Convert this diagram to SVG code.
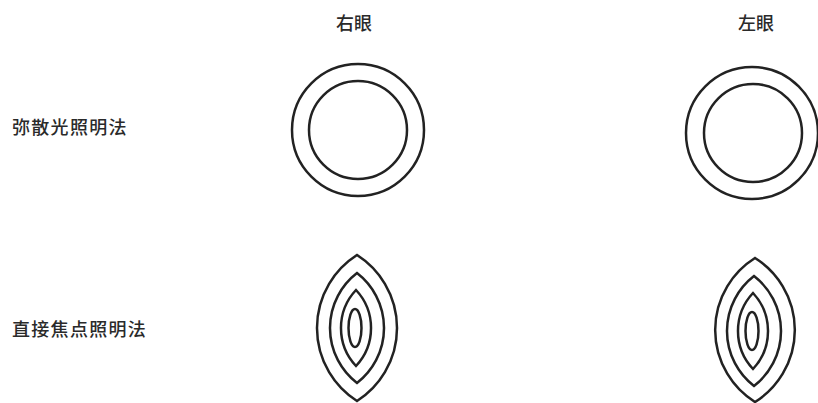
<svg xmlns="http://www.w3.org/2000/svg" width="818" height="403" viewBox="0 0 818 403">
<style>
.t{font-family:"Noto Sans CJK SC","Noto Sans",sans-serif;font-size:18px;fill:#2a2a2a;font-weight:500}
.s{fill:none;stroke:#222;stroke-width:2.5}
</style>
<rect width="818" height="403" fill="#fff"/>
<g id="header-right"><text class="t" x="354" y="30" text-anchor="middle">右眼</text></g>
<g id="header-left"><text class="t" x="756" y="30" text-anchor="middle">左眼</text></g>
<g id="label-diffuse"><text class="t" x="12" y="134" letter-spacing="1.3">弥散光照明法</text></g>
<g id="label-direct"><text class="t" x="12" y="336" letter-spacing="1.3">直接焦点照明法</text></g>
<g id="right-diffuse">
<circle class="s" cx="358" cy="130" r="66"/>
<circle class="s" cx="358" cy="130" r="49"/>
</g>
<g id="left-diffuse">
<circle class="s" cx="752" cy="133" r="66"/>
<circle class="s" cx="753" cy="133" r="49"/>
</g>
<g id="right-direct">
<path class="s" d="M357,255 A86.6,86.6 0 0 1 357,401 A86.6,86.6 0 0 1 357,255 Z"/>
<path class="s" d="M357,273 A69.5,69.5 0 0 1 357,383 A69.5,69.5 0 0 1 357,273 Z"/>
<path class="s" d="M356,290 A55.6,55.6 0 0 1 356,366 A55.6,55.6 0 0 1 356,290 Z"/>
<ellipse class="s" cx="355" cy="328" rx="6.5" ry="19"/>
</g>
<g id="left-direct">
<path class="s" d="M755,258 A85,85 0 0 1 755,402 A85,85 0 0 1 755,258 Z"/>
<path class="s" d="M754,276 A69.5,69.5 0 0 1 754,386 A69.5,69.5 0 0 1 754,276 Z"/>
<path class="s" d="M753,293 A55.6,55.6 0 0 1 753,369 A55.6,55.6 0 0 1 753,293 Z"/>
<ellipse class="s" cx="752" cy="331" rx="6.5" ry="19"/>
</g>
<g id="connectors"></g>
</svg>
